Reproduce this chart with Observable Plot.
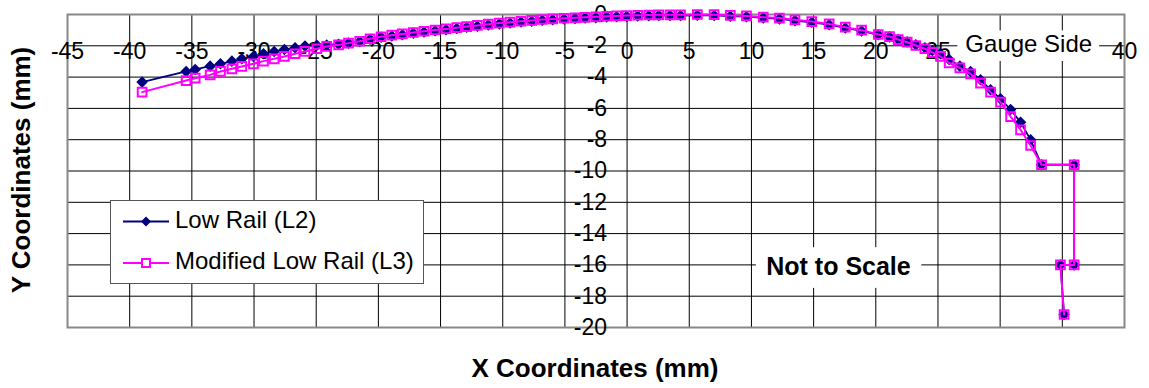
<!DOCTYPE html>
<html><head><meta charset="utf-8">
<script src="https://cdn.jsdelivr.net/npm/d3@7"></script>
<script src="https://cdn.jsdelivr.net/npm/@observablehq/plot@0.6"></script>
<style>body{margin:0;background:#fff} svg{display:block}</style>
</head><body><div id="chart"></div>
<script>
const xPos = [-39.0,-35.46,-34.73,-33.53,-32.7,-31.78,-30.98,-30.05,-29.24,-28.38,
  -27.56,-26.7,-25.9,-24.95,-24.15,-23.2,-22.4,-21.5,-20.67,-19.78,
  -18.92,-18.07,-17.19,-16.33,-15.44,-14.56,-13.7,-12.9,-12.04,-11.16,
  -10.27,-9.41,-8.53,-7.67,-6.82,-5.98,-5.07,-4.19,-3.38,-2.52,
  -1.64,-0.84,-0.03,0.85,1.75,2.55,3.45,4.3,5.65,7.0,
  8.3,9.6,10.95,12.25,13.5,14.85,16.25,17.55,18.86,20.2,
  21.1,21.8,22.52,23.22,23.95,24.55,25.2,25.9,26.76,27.62,
  28.42,29.23,30.03,30.84,31.64,32.45,33.33,35.95,35.95,34.85,
  35.14];
const lowRailY = [-4.32,-3.64,-3.51,-3.30,-3.15,-2.98,-2.83,-2.68,-2.51,-2.36,
  -2.24,-2.13,-2.02,-1.97,-1.95,-1.90,-1.83,-1.73,-1.58,-1.46,
  -1.37,-1.29,-1.20,-1.12,-1.04,-0.97,-0.89,-0.82,-0.75,-0.67,
  -0.60,-0.54,-0.48,-0.43,-0.37,-0.33,-0.29,-0.26,-0.23,-0.20,
  -0.16,-0.14,-0.12,-0.10,-0.08,-0.07,-0.07,-0.07,-0.05,-0.06,
  -0.11,-0.14,-0.22,-0.28,-0.39,-0.50,-0.65,-0.86,-1.05,-1.30,
  -1.43,-1.60,-1.75,-1.94,-2.13,-2.30,-2.50,-2.88,-3.30,-3.65,
  -4.17,-4.81,-5.39,-6.07,-6.88,-8.01,-9.60,-9.60,-16.0,-16.0,
  -19.17];
const modLowRailY = [-4.96,-4.22,-4.07,-3.86,-3.64,-3.47,-3.32,-3.15,-2.98,-2.83,
  -2.68,-2.51,-2.36,-2.19,-2.04,-1.94,-1.83,-1.71,-1.55,-1.42,
  -1.32,-1.24,-1.15,-1.07,-0.99,-0.92,-0.84,-0.77,-0.70,-0.62,
  -0.55,-0.49,-0.43,-0.38,-0.32,-0.28,-0.24,-0.21,-0.18,-0.15,
  -0.11,-0.09,-0.07,-0.05,-0.03,-0.02,-0.02,-0.02,0,-0.01,
  -0.06,-0.09,-0.17,-0.23,-0.34,-0.45,-0.60,-0.81,-1.00,-1.28,
  -1.41,-1.60,-1.77,-1.98,-2.19,-2.42,-2.68,-3.10,-3.41,-3.79,
  -4.39,-4.96,-5.60,-6.52,-7.37,-8.37,-9.60,-9.60,-16.0,-16.0,
  -19.17];
const xTicks = [-45,-40,-35,-30,-25,-20,-15,-10,-5,0,5,10,15,20,25,30,35,40];
// labels 30 and 35 are hidden behind the "Gauge Side" box in the original
const xTickLabels = [-45,-40,-35,-30,-25,-20,-15,-10,-5,0,5,10,15,20,25,40];
const yTicks = [0,-2,-4,-6,-8,-10,-12,-14,-16,-18,-20];
const seriesNames = ["Low Rail (L2)", "Modified Low Rail (L3)"];
const seriesColors = ["#000080", "#ff00ff"];
const xTitle = "X Coordinates (mm)";
const yTitle = "Y Coordinates (mm)";
const note1 = "Gauge Side";
const note2 = "Not to Scale";

const FONT = "'Liberation Sans', Arial, sans-serif";
const l2 = xPos.map((x, i) => ({x, y: lowRailY[i]}));
const l3 = xPos.map((x, i) => ({x, y: modLowRailY[i]}));

const chart = Plot.plot({
  width: 1149, height: 388,
  marginLeft: 67, marginRight: 25, marginTop: 14, marginBottom: 61,
  x: {domain: [-45, 40], axis: null},
  y: {domain: [-20, 0], axis: null},
  style: {fontFamily: FONT, background: "#fff", color: "#000"},
  marks: [
    Plot.ruleX(xTicks, {stroke: "#000", strokeWidth: 1}),
    Plot.ruleY(yTicks, {stroke: "#000", strokeWidth: 1}),
    Plot.frame({stroke: "#888", strokeWidth: 2}),
    Plot.text(xTickLabels, {x: d => d, y: -2, text: d => String(d), dy: 6, fontSize: 23, fill: "#000"}),
    Plot.text(yTicks, {x: 0, y: d => d, text: d => String(d), textAnchor: "end", dx: -20, fontSize: 23, fill: "#000"}),
    Plot.rect([note1], {x1: 26.6, x2: 38.0, y1: -1.05, y2: -3.0, fill: "#fff"}),
    Plot.text([note1], {x: 32.3, y: -1.92, text: d => d, fontSize: 24, fill: "#000"}),
    Plot.rect([note2], {x1: 10.4, x2: 23.7, y1: -14.9, y2: -17.5, fill: "#fff"}),
    Plot.text([note2], {x: 17.0, y: -16.15, text: d => d, fontSize: 25, fontWeight: "bold", fill: "#000"}),
    Plot.line(l2, {x: "x", y: "y", stroke: seriesColors[0], strokeWidth: 1.8}),
    Plot.dot(l2, {x: "x", y: "y", symbol: "diamond2", r: 5.2, fill: seriesColors[0], stroke: "none"}),
    Plot.line(l3, {x: "x", y: "y", stroke: seriesColors[1], strokeWidth: 2}),
    Plot.dot(l3, {x: "x", y: "y", symbol: "square", r: 4.9, fill: "none", stroke: seriesColors[1], strokeWidth: 2})
  ]
});
document.getElementById("chart").appendChild(chart);

const svg = d3.select(chart);
// axis titles
svg.append("text").attr("x", 595).attr("y", 370).attr("text-anchor", "middle")
  .attr("dominant-baseline", "middle").attr("font-family", FONT).attr("font-size", 26)
  .attr("font-weight", "bold").attr("fill", "#000").text(xTitle);
svg.append("text").attr("transform", "translate(23,170) rotate(-90)").attr("text-anchor", "middle")
  .attr("dominant-baseline", "middle").attr("font-family", FONT).attr("font-size", 26)
  .attr("font-weight", "bold").attr("fill", "#000").text(yTitle);
// legend
const lg = svg.append("g");
lg.append("rect").attr("x", 110.5).attr("y", 200.5).attr("width", 313).attr("height", 83)
  .attr("fill", "#fff").attr("stroke", "#555").attr("stroke-width", 1);
const rowsY = [221.5, 263];
seriesNames.forEach((name, i) => {
  const yy = rowsY[i];
  lg.append("line").attr("x1", 123).attr("x2", 169).attr("y1", yy).attr("y2", yy)
    .attr("stroke", seriesColors[i]).attr("stroke-width", 2);
  if (i === 0) {
    lg.append("path").attr("d", d3.symbol(d3.symbolDiamond2, 64)()).attr("transform", `translate(146,${yy})`)
      .attr("fill", seriesColors[0]);
  } else {
    lg.append("rect").attr("x", 142).attr("y", yy - 4).attr("width", 8).attr("height", 8)
      .attr("fill", "#fff").attr("stroke", seriesColors[1]).attr("stroke-width", 2);
  }
  lg.append("text").attr("x", 175).attr("y", yy).attr("text-anchor", "start")
    .attr("dominant-baseline", "middle")
    .attr("font-family", FONT).attr("font-size", 24).attr("fill", "#000").text(name);
});
</script></body></html>
